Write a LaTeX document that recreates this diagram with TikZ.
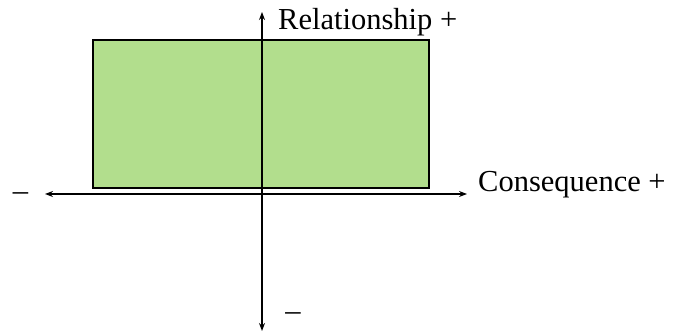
\documentclass[tikz,border=0pt]{standalone}
\usepackage{fontspec}
\setmainfont{Liberation Serif}
\usetikzlibrary{arrows.meta}
\definecolor{boxgreen}{RGB}{178,222,141}
\tikzset{
  axis/.style={line width=1.6pt,{Stealth[length=8pt,width=6pt]}-{Stealth[length=8pt,width=6pt]}},
  lbl/.style={font=\fontsize{30.5}{36}\selectfont,inner sep=0pt},
  quad/.style={draw=black,line width=2.6pt,fill=boxgreen}
}
\begin{document}
\begin{tikzpicture}[x=1pt,y=1pt]
\useasboundingbox (0,0) rectangle (674,334);
\fill[white] (0,0) rectangle (674,334);
\draw[quad] (93,294) rectangle (429,146);
\coordinate (hl) at (45,140);
\coordinate (hr) at (467,140);
\coordinate (vt) at (262,322);
\coordinate (vb) at (262,3);
\draw[axis] (hl) -- (hr);
\draw[axis] (vb) -- (vt);
\node[lbl,anchor=base west] (rel) at (278,304) {Relationship +};
\node[lbl,anchor=base west] (con) at (478,142) {Consequence +};
\node[lbl] (lm) at (20.5,137) {–};
\node[lbl] (bm) at (293,17) {–};
\end{tikzpicture}
\end{document}
